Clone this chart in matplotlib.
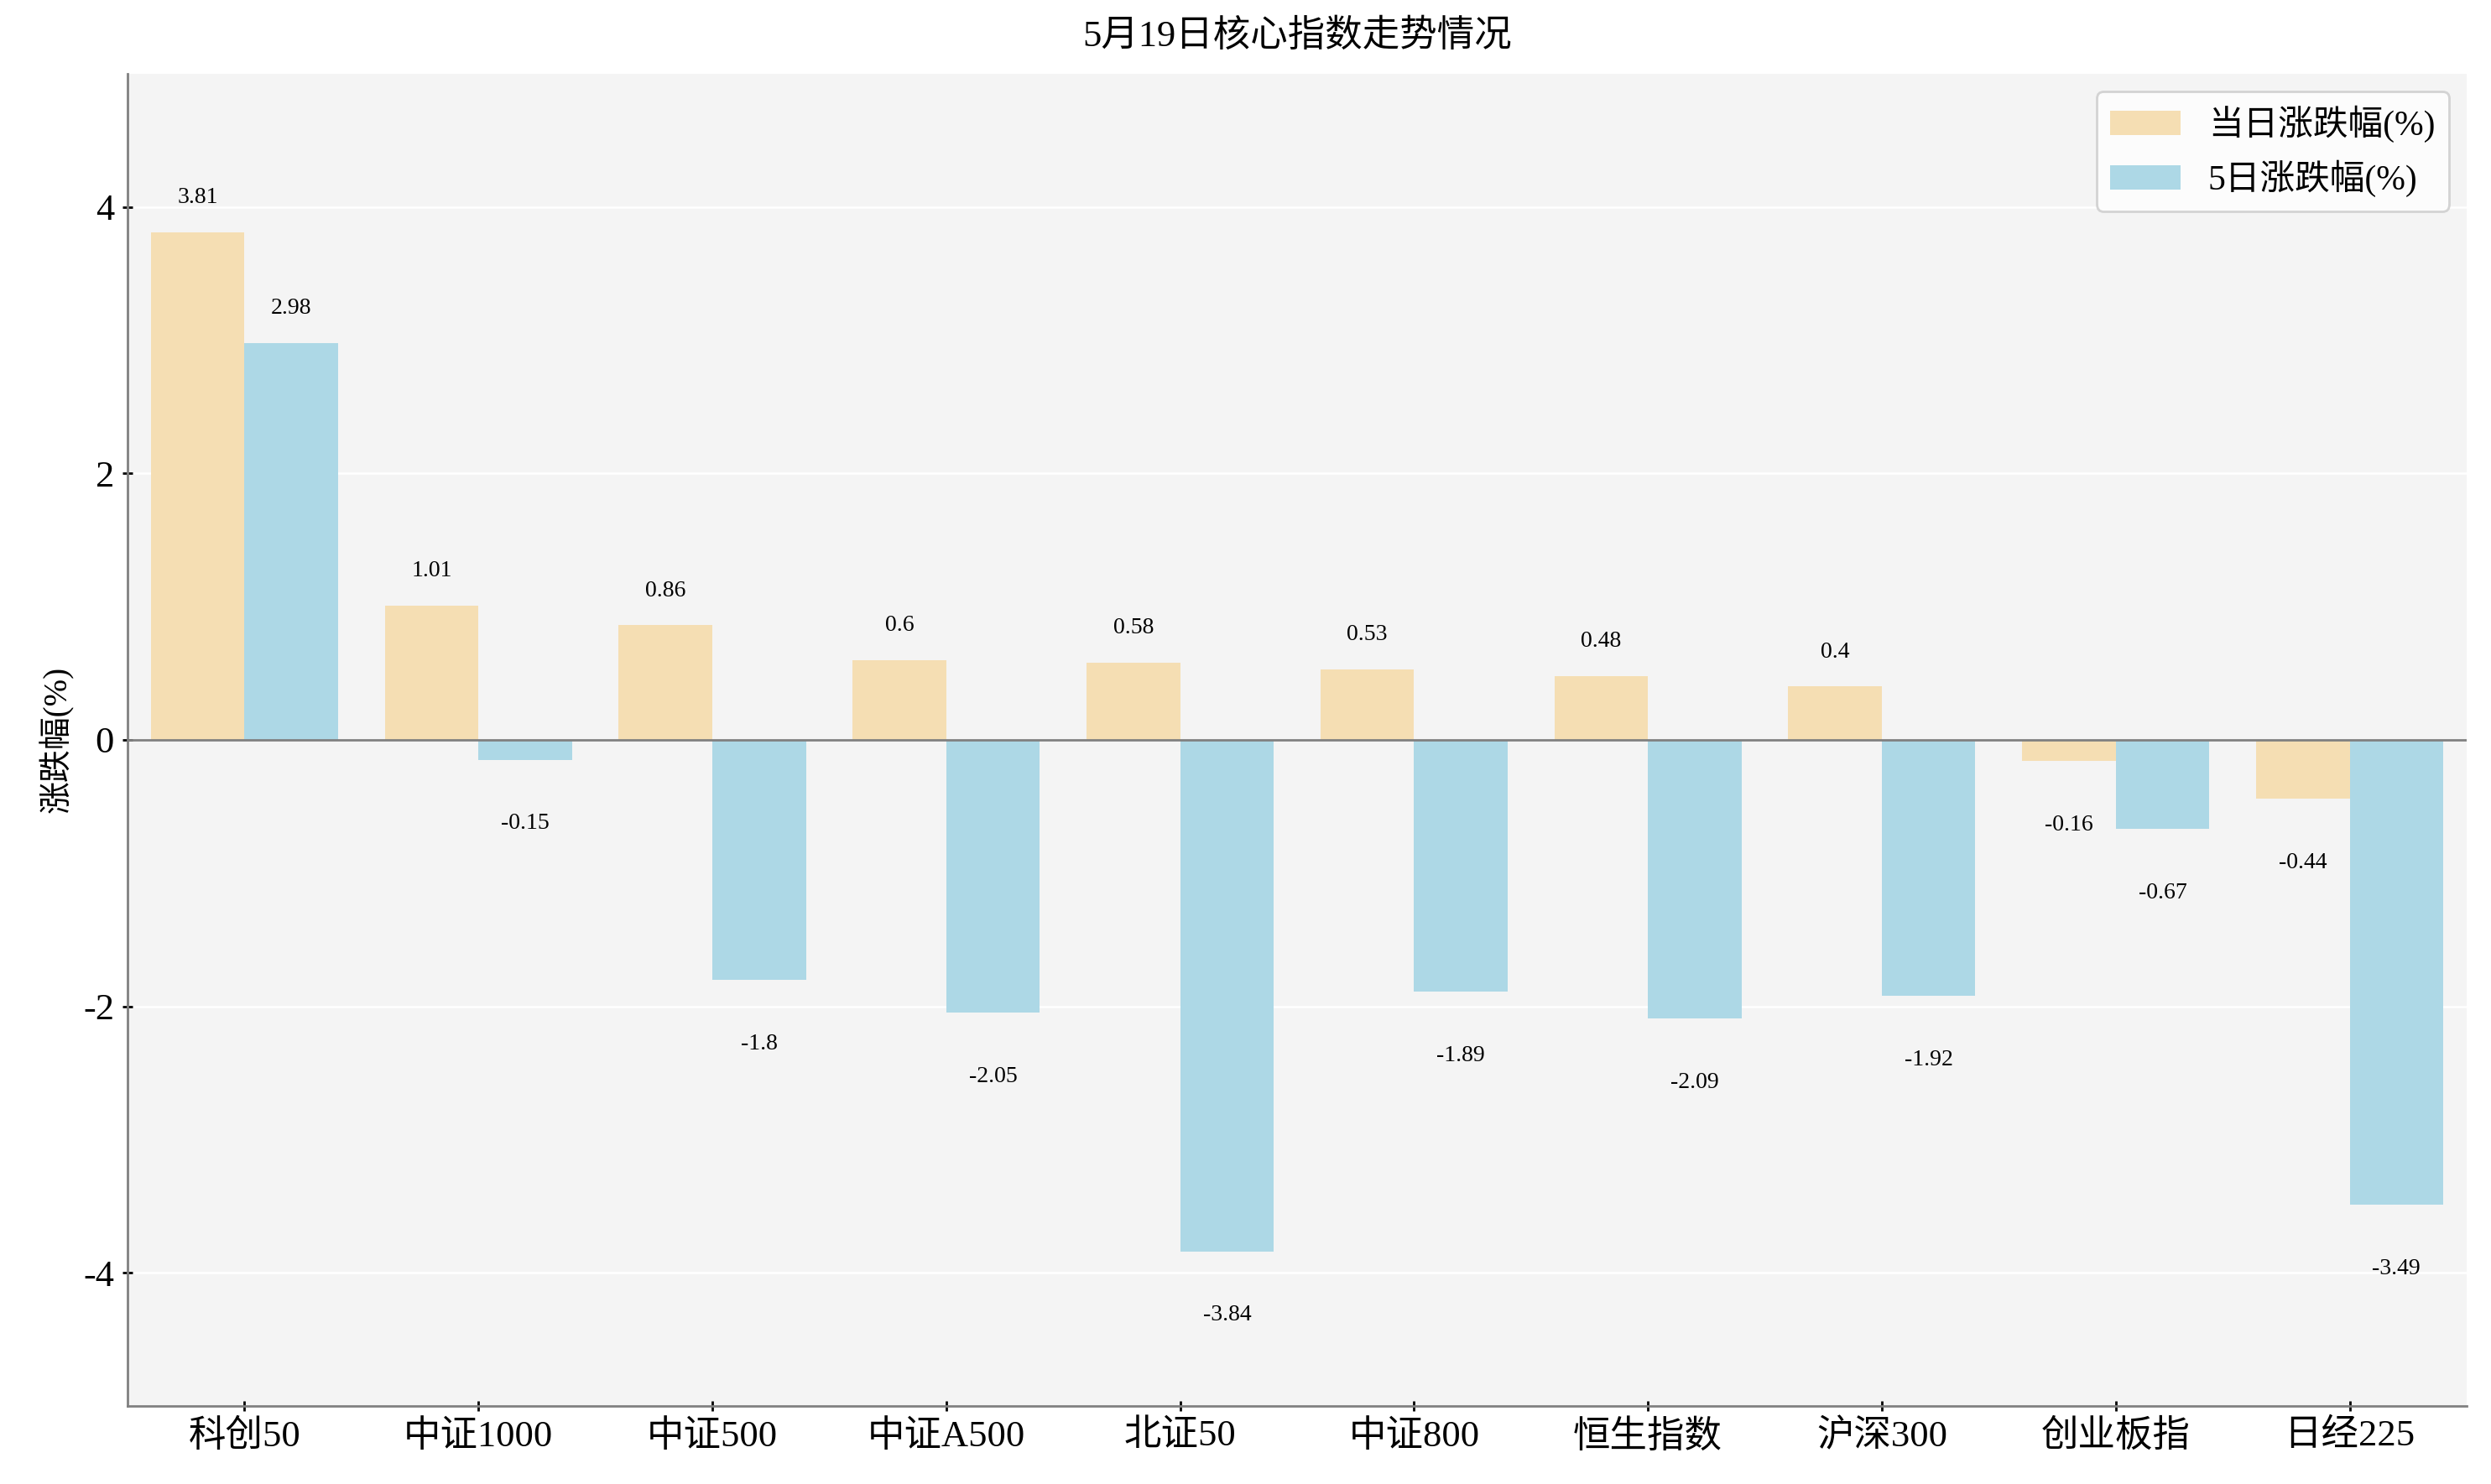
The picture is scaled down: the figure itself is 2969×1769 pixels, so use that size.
import numpy as np
import matplotlib
matplotlib.use("Agg")
import matplotlib.pyplot as plt

plt.rcParams['font.family'] = ['Liberation Serif', 'Noto Sans CJK SC', 'DejaVu Sans']
plt.rcParams['axes.unicode_minus'] = False

categories = ["科创50", "中证1000", "中证500", "中证A500", "北证50",
              "中证800", "恒生指数", "沪深300", "创业板指", "日经225"]
day_change = [3.81, 1.01, 0.86, 0.6, 0.58, 0.53, 0.48, 0.4, -0.16, -0.44]
week_change = [2.98, -0.15, -1.8, -2.05, -3.84, -1.89, -2.09, -1.92, -0.67, -3.49]

fig, ax = plt.subplots(figsize=(14.845, 8.845), dpi=200)
fig.subplots_adjust(left=0.0512, right=0.9902, top=0.9503, bottom=0.0526)
ax.set_facecolor("#f4f4f4")

x = np.arange(len(categories))
w = 0.4
ax.bar(x - w / 2, day_change, w, color="#f5deb3", label="当日涨跌幅(%)", zorder=2)
ax.bar(x + w / 2, week_change, w, color="#add8e6", label="5日涨跌幅(%)", zorder=2)

# value labels
for xs, vals in ((x - w / 2, day_change), (x + w / 2, week_change)):
    for xi, v in zip(xs, vals):
        y = v + 0.26 if v > 0 else v - 0.48
        ax.text(xi, y, f"{v:g}", ha="center", va="center", fontsize=10)

ax.axhline(0, color="#808080", lw=1, zorder=3)
ax.set_ylim(-5, 5)
ax.set_xlim(-0.5, len(categories) - 0.5)
ax.set_yticks([-4, -2, 0, 2, 4])
ax.set_xticks(x)
ax.set_xticklabels(categories)
ax.tick_params(direction="inout", length=4.5, width=1, colors="black", labelsize=16)
ax.yaxis.grid(True, color="white", lw=0.9, zorder=1)
ax.set_axisbelow(True)

for s in ("top", "right"):
    ax.spines[s].set_visible(False)
for s in ("left", "bottom"):
    ax.spines[s].set_color("#808080")
    ax.spines[s].set_linewidth(1)

ax.set_ylabel("涨跌幅(%)", fontsize=14)
ax.set_title("5月19日核心指数走势情况", fontsize=16, pad=12)
ax.legend(loc="upper right", fontsize=15, frameon=True, edgecolor="#d3d3d3",
          facecolor="#fcfcfc", framealpha=1)

fig.savefig("out.png", dpi=200)
